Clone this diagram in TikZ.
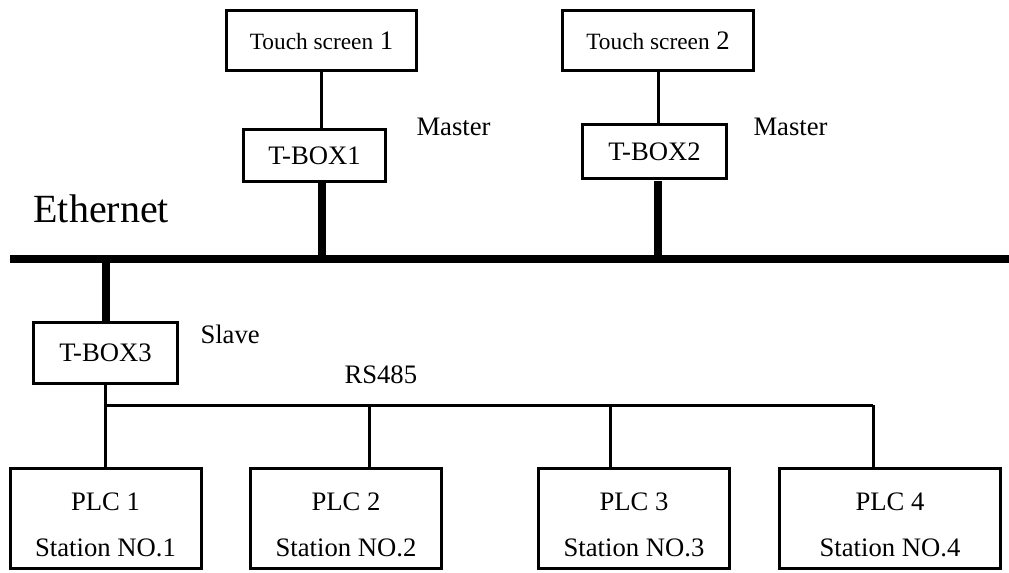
\documentclass[tikz,border=0pt]{standalone}
\usepackage{fontspec}
\setmainfont{Liberation Serif}
\usetikzlibrary{positioning}

\newcommand{\plcname}[2]{\rule{0pt}{23pt}#1\\#2}

\begin{document}
\begin{tikzpicture}[x=0.75pt,y=-0.75pt,line width=2.25pt]

	\tikzset{
		dev/.style={
				rectangle, draw=black, line width=2.25pt, inner sep=0pt, outer sep=0pt, font=\fontsize{20}{24}\selectfont
			},
		plc/.style={
				dev, minimum width=143.25pt, minimum height=75pt, align=center, font=\fontsize{20}{34}\selectfont
			},
		lbl/.style={
				inner sep=0pt, anchor=base west, font=\fontsize{20}{24}\selectfont
			},
		bus/.style={
				line width=6pt
			},
	}
	\useasboundingbox (0,0) rectangle (1009,572);

	% upper side: touch screens and masters
	\node[dev, minimum width=142.5pt, minimum height=45pt](ts1) at (321.5,40.5){{\fontsize{17.5}{20}\selectfont Touch screen} 1};
	\node[dev, minimum width=143.25pt, minimum height=45pt](ts2) at (658,40.5){{\fontsize{17.5}{20}\selectfont Touch screen} 2};
	\node[dev, minimum width=106.5pt, minimum height=39pt](tb1) at (314.5,155.5){T-BOX1};
	\node[dev, minimum width=108pt, minimum height=40.5pt](tb2) at (654.5,151.5){T-BOX2};

	\node[lbl](m1) at (415,135){Master};
	\node[lbl](m2) at (752,135){Master};
	\node[lbl, font=\fontsize{30}{36}\selectfont](eth) at (32,222){Ethernet};

	% ethernet bus
	\coordinate (e0) at (10,259);
	\coordinate (e9) at (1009,259);
	\draw[bus] (e0)--(e9);

	\draw (ts1.south)--(ts1.south |- tb1.north);
	\draw (ts2.south)--(ts2.south |- tb2.north);
	\draw[bus] (tb1.south -| ts1.south)--(e0 -| ts1.south);
	\draw[bus, shorten <=2pt] (tb2.south -| ts2.south)--(e0 -| ts2.south);

	% lower side: slave and PLCs
	\node[dev, minimum width=108pt, minimum height=45.75pt](tb3) at (105.5,353){T-BOX3};
	\node[lbl](sl) at (199,343){Slave};
	\node[lbl](rs) at (343,383){RS485};

	\node[plc](p1) at (105.5,518.5){\plcname{PLC 1}{Station NO.1}};
	\node[plc](p2) at (346,518.5){\plcname{PLC 2}{Station NO.2}};
	\node[plc](p3) at (634,518.5){\plcname{PLC 3}{Station NO.3}};
	\node[plc, minimum width=165.75pt](p4) at (890,518.5){\plcname{PLC 4}{Station NO.4}};

	\draw[bus] (e0 -| tb3.north)--(tb3.north);

	\coordinate (r1) at (106,405);
	\coordinate (r2) at (369,405);
	\coordinate (r3) at (610,405);
	\coordinate (r4) at (873,405);

	\draw (tb3.south)--(p1.north);
	\draw (r1)--(r4);
	\draw (r2)--(r2 |- p2.north);
	\draw (r3)--(r3 |- p3.north);
	\draw (r4)--(r4 |- p4.north);

\end{tikzpicture}
\end{document}
